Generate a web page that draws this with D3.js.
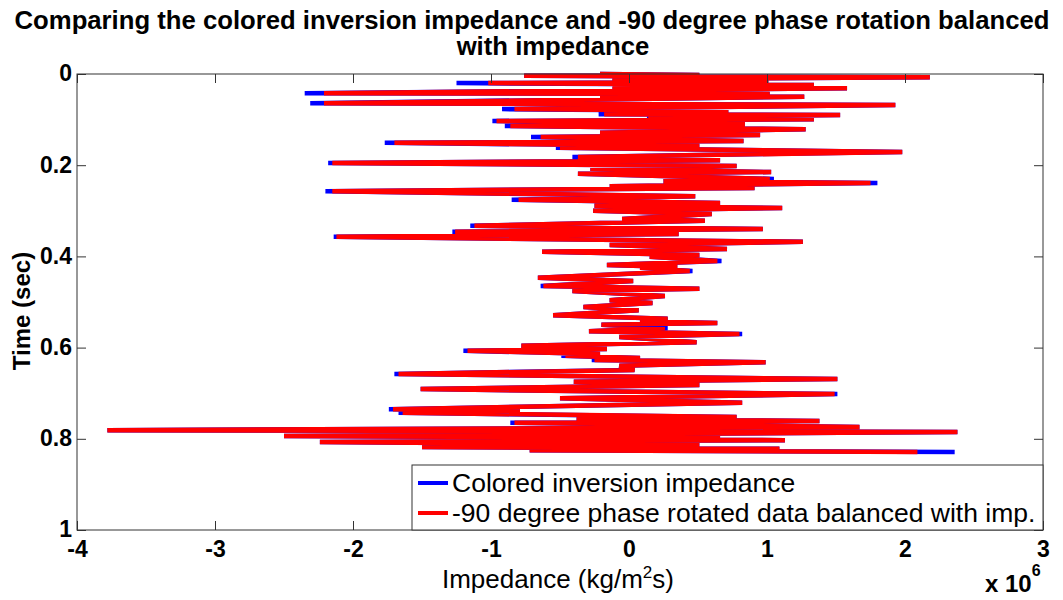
<!DOCTYPE html>
<html>
<head>
<meta charset="utf-8">
<script src="https://cdn.jsdelivr.net/npm/d3@7"></script>
<style>
    body { margin: 0; background: #fff; }
    text { font-family: "Liberation Sans", Arial, sans-serif; }
</style>
</head>
<body>
<div id="vis"></div>
<script>
// time (sec) of each turning point
const timeSec = [
    0.000, 0.002, 0.004, 0.007, 0.011, 0.018, 0.020, 0.024, 0.029, 0.031,
    0.042, 0.044, 0.048, 0.050, 0.064, 0.068, 0.077, 0.081, 0.088, 0.090,
    0.094, 0.099, 0.103, 0.110, 0.114, 0.121, 0.129, 0.134, 0.138, 0.147,
    0.151, 0.158, 0.162, 0.171, 0.182, 0.189, 0.195, 0.202, 0.208, 0.215,
    0.219, 0.230, 0.235, 0.239, 0.246, 0.250, 0.257, 0.268, 0.276, 0.283,
    0.289, 0.294, 0.300, 0.307, 0.318, 0.322, 0.333, 0.340, 0.346, 0.351,
    0.357, 0.368, 0.375, 0.384, 0.390, 0.397, 0.401, 0.410, 0.419, 0.423,
    0.425, 0.432, 0.447, 0.454, 0.465, 0.471, 0.476, 0.487, 0.496, 0.502,
    0.511, 0.518, 0.529, 0.537, 0.542, 0.546, 0.550, 0.557, 0.564, 0.570,
    0.577, 0.588, 0.596, 0.603, 0.607, 0.614, 0.618, 0.623, 0.627, 0.632,
    0.640, 0.649, 0.658, 0.669, 0.675, 0.682, 0.691, 0.702, 0.711, 0.721,
    0.735, 0.739, 0.743, 0.752, 0.757, 0.761, 0.765, 0.774, 0.781, 0.785,
    0.794, 0.798, 0.800, 0.803, 0.807, 0.814, 0.818, 0.822, 0.825, 0.829
];

// impedance, in units of 10^6 kg/m^2s
const impColored = [
    -0.21, 0.51, -0.76, 2.18, -0.12, 1.01, -1.25, 1.34, -0.12, 1.58,
    -2.35, 1.02, -0.21, 1.27, -2.31, 1.93, -0.92, 0.72, -0.22, 1.53,
    0.13, 1.34, -0.99, 0.84, -0.90, 1.28, -0.21, 0.95, -0.71, 0.83,
    -1.77, 0.51, -0.53, 1.98, -0.41, 0.66, -2.18, 0.78, -0.28, 1.03,
    -0.37, 1.05, 0.25, 1.80, -0.14, 0.91, -2.20, 0.48, -0.85, 0.66,
    -0.25, 1.11, -0.26, 0.60, -0.05, 0.55, -1.15, 0.97, -1.28, 0.36,
    -2.14, 1.26, -0.14, 0.71, -0.63, 0.51, 0.15, 0.67, -0.16, 0.35,
    0.08, 0.46, -0.66, 0.03, -0.64, 0.51, -0.41, 0.26, -0.14, 0.17,
    -0.33, 0.07, -0.55, 0.28, 0.08, 0.64, -0.20, 0.28, -0.29, 0.82,
    -0.07, 0.49, -0.78, -0.16, -1.20, -0.21, -0.49, 0.08, -0.27, 0.99,
    -0.07, 0.04, -1.70, 1.51, -0.40, 0.51, -1.51, 1.51, -0.50, 0.82,
    -1.74, -0.79, -1.67, 0.78, -0.38, 1.38, -0.86, 1.67, -3.78, 2.38,
    -2.50, 0.66, -1.17, 1.13, -2.24, 0.51, -1.50, 1.09, -0.72, 2.36
];

const impBalanced = [
    -0.21, 0.51, -0.76, 2.18, -0.12, 1.01, -1.02, 1.34, -0.12, 1.58,
    -2.21, 1.02, -0.21, 1.27, -2.21, 1.93, -0.83, 0.72, -0.18, 1.53,
    0.14, 1.34, -0.96, 0.84, -0.86, 1.28, -0.21, 0.95, -0.64, 0.83,
    -1.70, 0.51, -0.50, 1.98, -0.37, 0.66, -2.15, 0.78, -0.28, 1.03,
    -0.37, 1.02, 0.25, 1.75, -0.14, 0.91, -2.15, 0.48, -0.80, 0.66,
    -0.25, 1.11, -0.26, 0.60, -0.05, 0.55, -1.12, 0.97, -1.26, 0.36,
    -2.12, 1.26, -0.14, 0.71, -0.63, 0.51, 0.15, 0.64, -0.16, 0.35,
    0.08, 0.44, -0.66, 0.03, -0.62, 0.51, -0.41, 0.26, -0.14, 0.17,
    -0.33, 0.07, -0.55, 0.28, 0.08, 0.64, -0.20, 0.26, -0.29, 0.80,
    -0.07, 0.49, -0.78, -0.16, -1.17, -0.21, -0.46, 0.08, -0.25, 0.99,
    -0.07, 0.04, -1.67, 1.51, -0.40, 0.51, -1.51, 1.49, -0.50, 0.82,
    -1.71, -0.79, -1.64, 0.78, -0.38, 1.38, -0.83, 1.67, -3.78, 2.38,
    -2.50, 0.66, -1.15, 1.13, -2.24, 0.51, -1.50, 1.09, -0.72, 2.09
];

const xTicks = [-4, -3, -2, -1, 0, 1, 2, 3];
const yTicks = [0, 0.2, 0.4, 0.6, 0.8, 1];
const seriesNames = ["Colored inversion impedance", "-90 degree phase rotated data balanced with imp."];
const seriesColors = ["#0000ff", "#ff0000"];

const width = 1063, height = 600;
const pLeft = 77, pRight = 1043, pTop = 74, pBottom = 530;

const svg = d3.select("#vis").append("svg")
    .attr("width", width)
    .attr("height", height);

const x = d3.scaleLinear().domain([-4, 3]).range([pLeft, pRight]);
const y = d3.scaleLinear().domain([0, 1]).range([pTop, pBottom]);

// traces: blue first, red drawn over it
const traces = [impColored, impBalanced];
const line = d3.line()
    .x(d => x(d[1]))
    .y(d => y(d[0]));

traces.forEach(function (vals, k) {
    svg.append("path")
        .datum(timeSec.map((t, i) => [t, vals[i]]))
        .attr("d", line)
        .attr("fill", "none")
        .attr("stroke", seriesColors[k])
        .attr("stroke-width", 4.5)
        .attr("stroke-linejoin", "miter")
        .attr("stroke-miterlimit", 2);
});

// axes, ticks pointing inward on all four sides
const axisColor = "#333";
const xb = svg.append("g")
    .attr("transform", "translate(0," + pBottom + ")")
    .call(d3.axisBottom(x).tickValues(xTicks).tickSizeInner(-9).tickSizeOuter(0)
        .tickPadding(11).tickFormat(d => String(d)));
const xt = svg.append("g")
    .attr("transform", "translate(0," + pTop + ")")
    .call(d3.axisTop(x).tickValues(xTicks).tickSizeInner(-9).tickSizeOuter(0).tickFormat(""));
const yl = svg.append("g")
    .attr("transform", "translate(" + pLeft + ",0)")
    .call(d3.axisLeft(y).tickValues(yTicks).tickSizeInner(-9).tickSizeOuter(0)
        .tickPadding(5).tickFormat(d => String(d)));
const yr = svg.append("g")
    .attr("transform", "translate(" + pRight + ",0)")
    .call(d3.axisRight(y).tickValues(yTicks).tickSizeInner(-9).tickSizeOuter(0).tickFormat(""));

[xb, xt, yl, yr].forEach(function (g) {
    g.select(".domain").remove();
    g.selectAll("line").attr("stroke", axisColor);
    g.selectAll("text")
        .attr("fill", "#000")
        .style("font-size", "23px")
        .style("font-weight", "bold");
});
xb.selectAll("text").attr("dy", "0.71em");
yl.selectAll("text").attr("dy", "0.3em");

svg.append("rect")
    .attr("x", pLeft).attr("y", pTop)
    .attr("width", pRight - pLeft).attr("height", pBottom - pTop)
    .attr("fill", "none")
    .attr("stroke", axisColor)
    .attr("stroke-width", 1);

// legend
const lg = svg.append("g");
lg.append("rect")
    .attr("x", 412).attr("y", 465)
    .attr("width", pRight - 412).attr("height", pBottom - 465)
    .attr("fill", "#fff")
    .attr("stroke", axisColor);
seriesNames.forEach(function (name, k) {
    const ly = 483 + k * 30;
    lg.append("line")
        .attr("x1", 418).attr("x2", 448)
        .attr("y1", ly).attr("y2", ly)
        .attr("stroke", seriesColors[k])
        .attr("stroke-width", 4);
    lg.append("text")
        .attr("x", 452).attr("y", ly + 9)
        .style("font-size", "26.5px")
        .text(name);
});

// title
const title = svg.append("text")
    .attr("x", 532)
    .attr("text-anchor", "middle")
    .style("font-size", "25.7px")
    .style("font-weight", "bold");
title.append("tspan").attr("x", 532).attr("y", 29)
    .text("Comparing the colored inversion impedance and -90 degree phase rotation balanced");
title.append("tspan").attr("x", 553).attr("y", 55)
    .text("with impedance");

// axis labels
const xl = svg.append("text")
    .attr("x", 558).attr("y", 588)
    .attr("text-anchor", "middle")
    .style("font-size", "26px");
xl.append("tspan").text("Impedance (kg/m");
xl.append("tspan").attr("dy", -10).style("font-size", "17px").text("2");
xl.append("tspan").attr("dy", 10).text("s)");

svg.append("text")
    .attr("transform", "translate(30,311) rotate(-90)")
    .attr("text-anchor", "middle")
    .style("font-size", "24px")
    .style("font-weight", "bold")
    .text("Time (sec)");

const ex = svg.append("text")
    .attr("x", 985).attr("y", 592)
    .style("font-size", "24px")
    .style("font-weight", "bold");
ex.append("tspan").text("x 10");
ex.append("tspan").attr("dy", -16).style("font-size", "16px").text("6");
</script>
</body>
</html>
